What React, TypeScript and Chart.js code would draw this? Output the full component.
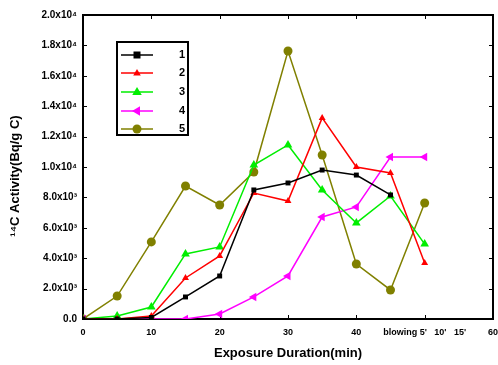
import React, { useEffect, useRef } from "react";
import { Chart, registerables } from "chart.js";

Chart.register(...registerables);

const xValues = [0, 5, 10, 15, 20, 25, 30, 35, 40, 45, 50];
const series1 = [0, 0, 100, 1450, 2830, 8490, 8950, 9800, 9470, 8160, null];
const series2 = [0, 0, 200, 2700, 4150, 8290, 7760, 13230, 10000, 9610, 3680];
const series3 = [0, 200, 790, 4280, 4740, 10130, 11450, 8490, 6320, 8090, 4930];
const series4 = [0, null, null, 0, 330, 1450, 2830, 6710, 7370, 10660, 10660];
const series5 = [0, 1510, 5070, 8750, 7500, 9670, 17630, 10790, 3620, 1910, 7630];
const seriesNames = ["1", "2", "3", "4", "5"];

const xTickValues = [0, 10, 20, 30, 40, 50, 60];
const xTickLabels = ["0", "10", "20", "30", "40", "blowing 5'   10'   15'", "60"];
const yTickValues = [0, 2000, 4000, 6000, 8000, 10000, 12000, 14000, 16000, 18000, 20000];
const yTickLabels = [
  "0.0",
  "2.0x10\u00B3",
  "4.0x10\u00B3",
  "6.0x10\u00B3",
  "8.0x10\u00B3",
  "1.0x10\u2074",
  "1.2x10\u2074",
  "1.4x10\u2074",
  "1.6x10\u2074",
  "1.8x10\u2074",
  "2.0x10\u2074",
];

const xTitle = "Exposure Duration(min)";
const yTitle = "\u00B9\u2074C Activity(Bq/g C)";

const FONT = "'Liberation Sans', Arial, sans-serif";

type Style = { color: string; pointStyle: string; radius: number; rotation: number };
const styles: Style[] = [
  { color: "#000000", pointStyle: "rect", radius: 3.5, rotation: 0 },
  { color: "#ff0000", pointStyle: "triangle", radius: 4, rotation: 0 },
  { color: "#00ee00", pointStyle: "triangle", radius: 5, rotation: 0 },
  { color: "#ff00ff", pointStyle: "triangle", radius: 5, rotation: 270 },
  { color: "#808000", pointStyle: "circle", radius: 4.5, rotation: 0 },
];

function toPoints(arr: (number | null)[]) {
  const out: { x: number; y: number }[] = [];
  arr.forEach((v, i) => {
    if (v !== null) out.push({ x: xValues[i], y: v });
  });
  return out;
}

function drawMarker(ctx: CanvasRenderingContext2D, s: Style, x: number, y: number) {
  ctx.save();
  ctx.fillStyle = s.color;
  ctx.translate(x, y);
  ctx.rotate((s.rotation * Math.PI) / 180);
  const r = s.radius;
  ctx.beginPath();
  if (s.pointStyle === "rect") {
    ctx.rect(-r, -r, 2 * r, 2 * r);
  } else if (s.pointStyle === "triangle") {
    ctx.moveTo(0, -r);
    ctx.lineTo(r * 0.95, r * 0.6);
    ctx.lineTo(-r * 0.95, r * 0.6);
    ctx.closePath();
  } else {
    ctx.arc(0, 0, r, 0, Math.PI * 2);
  }
  ctx.fill();
  ctx.restore();
}

const framePlugin = {
  id: "frameTicks",
  beforeDatasetsDraw(chart: any) {
    const { ctx, chartArea: a, scales } = chart;
    const xs = scales.x;
    const ys = scales.y;
    ctx.save();
    ctx.strokeStyle = "#000";
    ctx.lineWidth = 1;
    const len = 4;
    xTickValues.forEach((v) => {
      const px = Math.round(xs.getPixelForValue(v)) + 0.5;
      ctx.beginPath();
      ctx.moveTo(px, a.bottom);
      ctx.lineTo(px, a.bottom - len);
      ctx.moveTo(px, a.top);
      ctx.lineTo(px, a.top + len);
      ctx.stroke();
    });
    yTickValues.forEach((v) => {
      const py = Math.round(ys.getPixelForValue(v)) + 0.5;
      ctx.beginPath();
      ctx.moveTo(a.left, py);
      ctx.lineTo(a.left + len, py);
      ctx.moveTo(a.right, py);
      ctx.lineTo(a.right - len, py);
      ctx.stroke();
    });
    ctx.lineWidth = 2;
    ctx.strokeRect(a.left, a.top, a.right - a.left, a.bottom - a.top);
    ctx.restore();
  },
};

const legendPlugin = {
  id: "customLegend",
  afterDatasetsDraw(chart: any) {
    const { ctx } = chart;
    ctx.save();
    ctx.strokeStyle = "#000";
    ctx.lineWidth = 2;
    ctx.fillStyle = "#fff";
    ctx.fillRect(117, 42, 71, 93);
    ctx.strokeRect(117, 42, 71, 93);
    const rows = [55, 73, 92, 111, 129];
    styles.forEach((s, i) => {
      const y = rows[i];
      ctx.strokeStyle = s.color;
      ctx.lineWidth = 1.5;
      ctx.beginPath();
      ctx.moveTo(121, y);
      ctx.lineTo(153, y);
      ctx.stroke();
      drawMarker(ctx, s, 137, y);
      ctx.fillStyle = "#000";
      ctx.font = `bold 11px ${FONT}`;
      ctx.textAlign = "center";
      ctx.textBaseline = "middle";
      ctx.fillText(seriesNames[i], 182, y);
    });
    ctx.restore();
  },
};

export default function App() {
  const canvasRef = useRef<HTMLCanvasElement | null>(null);

  useEffect(() => {
    if (!canvasRef.current) return;
    const allSeries = [series1, series2, series3, series4, series5];
    const chart = new Chart(canvasRef.current, {
      type: "line",
      data: {
        datasets: allSeries.map((arr, i) => ({
          label: seriesNames[i],
          data: toPoints(arr),
          borderColor: styles[i].color,
          backgroundColor: styles[i].color,
          pointBackgroundColor: styles[i].color,
          pointBorderColor: styles[i].color,
          pointStyle: styles[i].pointStyle as any,
          pointRadius: styles[i].radius,
          pointRotation: styles[i].rotation,
          borderWidth: 1.5,
          pointBorderWidth: 0,
          tension: 0,
          fill: false,
        })),
      },
      options: {
        animation: false,
        responsive: false,
        layout: { padding: { top: 15, right: 5, left: 0, bottom: 0 } },
        plugins: {
          legend: { display: false },
          tooltip: { enabled: false },
        },
        scales: {
          x: {
            type: "linear",
            min: 0,
            max: 60,
            afterBuildTicks: (s: any) => {
              s.ticks = xTickValues.map((v) => ({ value: v }));
            },
            afterFit: (s: any) => {
              s.height = 46;
              s.paddingLeft = 0;
              s.paddingRight = 0;
            },
            ticks: {
              autoSkip: false,
              maxRotation: 0,
              padding: 8,
              color: "#000",
              font: { family: FONT, size: 9, weight: "bold" },
              callback: (v: any) => {
                const i = xTickValues.indexOf(Number(v));
                return i >= 0 ? xTickLabels[i] : "";
              },
            },
            grid: { display: false, drawTicks: false },
            border: { display: false },
            title: {
              display: true,
              text: xTitle,
              color: "#000",
              font: { family: FONT, size: 13, weight: "bold" },
              padding: { top: 2, bottom: 4 },
            },
          },
          y: {
            type: "linear",
            min: 0,
            max: 20000,
            afterBuildTicks: (s: any) => {
              s.ticks = yTickValues.map((v) => ({ value: v }));
            },
            afterFit: (s: any) => {
              s.width = 83;
              s.paddingTop = 0;
              s.paddingBottom = 0;
            },
            ticks: {
              autoSkip: false,
              padding: 6,
              color: "#000",
              font: { family: FONT, size: 10, weight: "bold" },
              callback: (v: any) => {
                const i = yTickValues.indexOf(Number(v));
                return i >= 0 ? yTickLabels[i] : "";
              },
            },
            grid: { display: false, drawTicks: false },
            border: { display: false },
            title: {
              display: true,
              text: yTitle + "     ",
              color: "#000",
              font: { family: FONT, size: 13, weight: "bold" },
              padding: { top: 8, bottom: 2 },
            },
          },
        },
      },
      plugins: [framePlugin, legendPlugin],
    });
    return () => chart.destroy();
  }, []);

  return (
    <div style={{ position: "absolute", left: 0, top: 0, width: 498, height: 365, background: "#fff" }}>
      <canvas ref={canvasRef} width={498} height={365} style={{ display: "block" }} />
    </div>
  );
}
